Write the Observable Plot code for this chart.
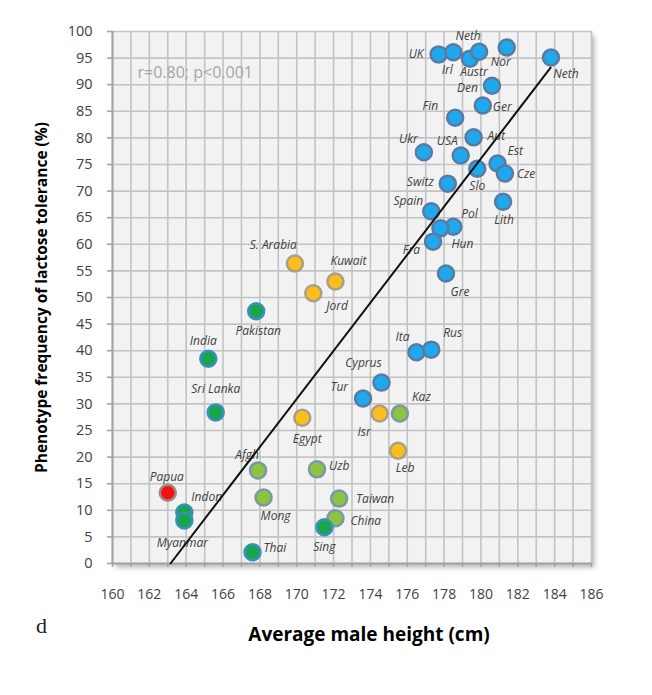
<!DOCTYPE html>
<html><head><meta charset="utf-8">
<script src="https://cdn.jsdelivr.net/npm/d3@7"></script>
<script src="https://cdn.jsdelivr.net/npm/@observablehq/plot@0.6"></script>
<style>body{margin:0;background:#fff}#chart svg{display:block}</style>
</head><body><div id="chart"></div>
<script>
// ---- data ----
const countries = ["UK","Irl","Austr","Neth","Nor","Neth","Den","Ger","Fin","Aut","Ukr","USA","Est","Slo","Cze","Switz","Lith","Spain","Pol","Hun","Fra","Gre","Ita","Rus","Cyprus","Tur",
  "S. Arabia","Kuwait","Jord","Egypt","Isr","Leb",
  "Kaz","Afgh","Uzb","Mong","Taiwan","China",
  "Pakistan","India","Sri Lanka","Indon","Myanmar","Thai","Sing",
  "Papua"];
const heights = [177.7,178.5,179.4,179.9,181.4,183.8,180.6,180.1,178.6,179.6,176.9,178.9,180.9,179.8,181.3,178.2,181.2,177.3,178.5,177.8,177.4,178.1,176.5,177.3,174.6,173.6,
  169.9,172.1,170.9,170.3,174.5,175.5,
  175.6,167.9,171.1,168.2,172.3,172.1,
  167.8,165.2,165.6,163.9,163.9,167.6,171.5,
  163.0];
const tolerance = [95.7,96.1,94.9,96.2,97.0,95.1,89.8,86.1,83.8,80.1,77.3,76.7,75.2,74.2,73.3,71.4,68.0,66.2,63.3,63.0,60.5,54.5,39.7,40.2,34.0,31.0,
  56.4,53.0,50.8,27.4,28.2,21.2,
  28.2,17.5,17.7,12.4,12.2,8.5,
  47.4,38.5,28.4,9.6,8.1,2.1,6.8,
  13.3];
const groups = [...Array(26).fill("blue"), ...Array(6).fill("orange"), ...Array(6).fill("lightgreen"), ...Array(7).fill("green"), "red"];
const trendHeight = [163.15, 183.78];
const trendTolerance = [0, 93.2];
const xDomain = [160, 186];
const yDomain = [0, 100];
const xGrid = d3.range(160, 187, 1);
const xTickLabels = d3.range(160, 187, 2);
const yTicks = d3.range(0, 101, 5);
const annotation = "r=0.80; p<0.001";

// ---- styles ----
const fills = {blue:"#1ea8ef", orange:"#fdbd1c", lightgreen:"#8cc43f", green:"#17a64c", red:"#fb0d0d"};
const strokes = {blue:"#5a7aa0", orange:"#a89f86", lightgreen:"#7b97a8", green:"#3b8fbf", red:"#9a8a8a"};
// label placement: [dx, dy, anchor]
const labelPlacement = [
  [-15,0,"end"],[-6,18,"middle"],[4,14,"middle"],[-11,-16,"middle"],[-6,15,"middle"],[15,17,"middle"],
  [-14,2,"end"],[10,2,"start"],[-17,-12,"end"],[14,-1,"start"],[-6,-13,"end"],[-3,-14,"end"],
  [10,-12,"start"],[0,17,"middle"],[12,1,"start"],[-14,-1,"end"],[1,18,"middle"],[-8,-10,"end"],
  [8,-13,"start"],[11,16,"start"],[-13,9,"end"],[14,19,"middle"],[-7,-15,"end"],[12,-16,"start"],
  [-18,-19,"middle"],[-15,-11,"end"],
  [2,-18,"end"],[13,-20,"middle"],[13,13,"start"],[5,21,"middle"],[-9,19,"end"],[7,17,"middle"],
  [12,-16,"start"],[-11,-15,"middle"],[12,-3,"start"],[12,19,"middle"],[17,1,"start"],[15,3,"start"],
  [2,20,"middle"],[-5,-18,"middle"],[0,-23,"middle"],[7,-15,"start"],[-2,23,"middle"],[11,-4,"start"],[0,20,"middle"],
  [-1,-16,"middle"]
];

const rows = countries.map((c, i) => ({country: c, height: heights[i], tol: tolerance[i], group: groups[i]}));
const trend = trendHeight.map((h, i) => ({height: h, tol: trendTolerance[i]}));

const labelMarks = rows.map((r, i) => Plot.text([r], {
  x: "height", y: "tol", text: "country",
  dx: labelPlacement[i][0], dy: labelPlacement[i][1], textAnchor: labelPlacement[i][2],
  lineAnchor: "middle", fontStyle: "italic", fontSize: 12, fill: "#404040"
}));

const chart = Plot.plot({
  width: 652, height: 695,
  marginLeft: 112, marginRight: 61, marginTop: 31, marginBottom: 132,
  style: {fontFamily: "'Open Sans', sans-serif", background: "#fff", overflow: "visible"},
  x: {domain: xDomain, label: null},
  y: {domain: yDomain, label: null},
  marks: [
    Plot.frame({fill: "#000", fillOpacity: 0.28, dx: 3, dy: 4, imageFilter: "blur(2.5px)"}),
    Plot.frame({fill: "#f2f2f2", stroke: "#cfcfcf"}),
    Plot.gridX(xGrid, {stroke: "#c3c3c3", strokeOpacity: 1, strokeWidth: 1.6}),
    Plot.gridY(yTicks, {stroke: "#c3c3c3", strokeOpacity: 1, strokeWidth: 1.6}),
    Plot.ruleX([xDomain[0]], {stroke: "#a3a3a3", strokeWidth: 2}),
    Plot.ruleY([yDomain[0]], {stroke: "#a3a3a3", strokeWidth: 2}),
    Plot.axisY({ticks: yTicks, tickSize: 5, tickFormat: () => "", stroke: "#a3a3a3", strokeWidth: 1.6, label: null}),
    Plot.axisY({ticks: yTicks, tickSize: 0, tickPadding: 20, fontSize: 14.5, fill: "#404040", color: "#404040", label: null}),
    Plot.axisX({ticks: xGrid, tickSize: 4, tickFormat: () => "", stroke: "#a3a3a3", strokeWidth: 1.6, label: null}),
    Plot.axisX({ticks: xTickLabels, tickSize: 0, tickPadding: 26, fontSize: 14, fill: "#404040", color: "#404040", label: null}),
    Plot.dot(rows, {x: "height", y: "tol", r: 8, fill: d => fills[d.group], stroke: d => strokes[d.group], strokeWidth: 2.5}),
    ...labelMarks,
    Plot.line(trend, {x: "height", y: "tol", stroke: "#111", strokeWidth: 2}),
    Plot.text([annotation], {frameAnchor: "top-left", dx: 25, dy: 41, textAnchor: "start", lineAnchor: "middle", fontSize: 16, fill: "#a6a6a6"}),
    Plot.text(["Phenotype frequency of lactose tolerance (%)"], {frameAnchor: "left", dx: -70, rotate: -90, textAnchor: "middle", lineAnchor: "middle", fontSize: 15.5, fontWeight: "bold", fill: "#000"}),
    Plot.text(["Average male height (cm)"], {frameAnchor: "bottom", dx: 17, dy: 71, textAnchor: "middle", lineAnchor: "middle", fontSize: 19, fontWeight: "bold", fill: "#000"}),
    Plot.text(["d"], {frameAnchor: "bottom-left", dx: -71, dy: 62, textAnchor: "middle", lineAnchor: "middle", fontSize: 22, fontFamily: "'Liberation Serif', serif", fill: "#222"})
  ]
});
document.getElementById("chart").append(chart);
</script>
</body></html>
